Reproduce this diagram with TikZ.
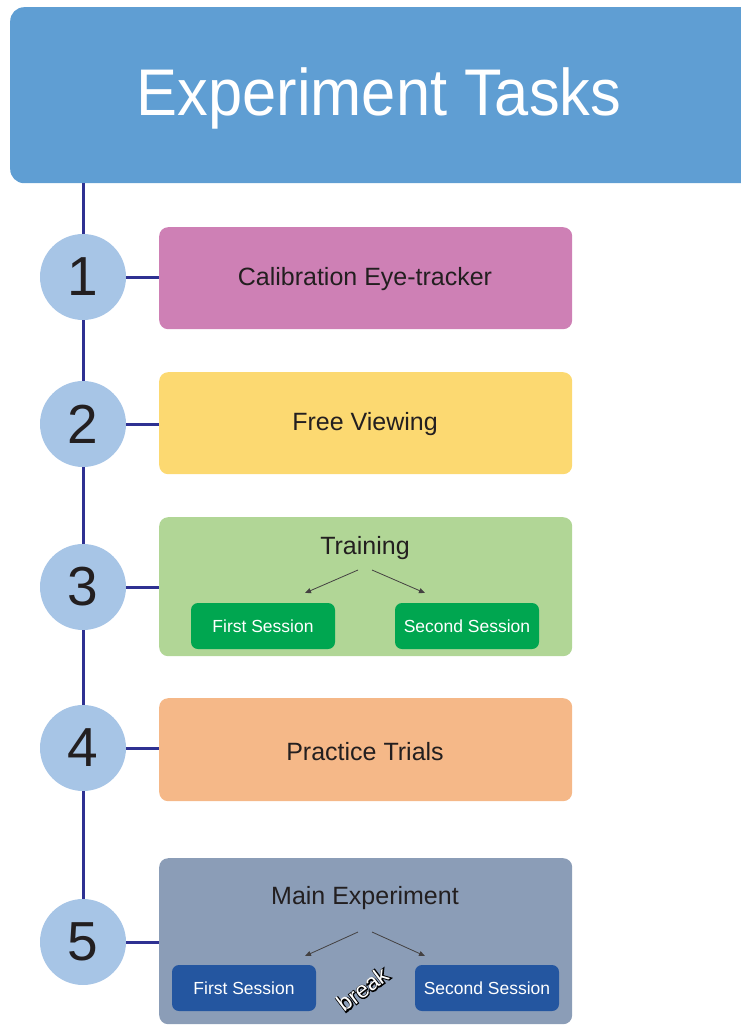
\documentclass[tikz,border=0pt]{standalone}
\usepackage{fontspec}
\setmainfont{Liberation Sans}
\newfontfamily\brkfont[FakeBold=8]{Liberation Sans}
\usetikzlibrary{arrows.meta}
\definecolor{hdr}{HTML}{5F9ED3}
\definecolor{navy}{HTML}{2E3192}
\definecolor{circ}{HTML}{A7C5E6}
\definecolor{pinkb}{HTML}{CE80B5}
\definecolor{yelb}{HTML}{FCD971}
\definecolor{greenb}{HTML}{B1D696}
\definecolor{orangeb}{HTML}{F5B888}
\definecolor{grayb}{HTML}{8B9DB7}
\definecolor{greensub}{HTML}{00A650}
\definecolor{bluesub}{HTML}{2456A0}
\definecolor{txt}{HTML}{231F20}
\tikzset{
  taskbox/.style={rounded corners=9pt, draw=none, minimum width=413pt, anchor=north west, inner sep=0pt},
  numcirc/.style={circle, fill=circ, minimum size=86pt, inner sep=0pt, font=\fontsize{55}{55}\selectfont, text=txt},
  tasklabel/.style={font=\fontsize{25}{25}\selectfont, text=txt},
  subbox/.style={rounded corners=7pt, minimum width=144pt, minimum height=46pt, inner sep=0pt, text=white, font=\fontsize{17.5}{17.5}\selectfont},
  timeline/.style={draw=navy, line width=3pt},
  subarrow/.style={draw=txt!85, line width=0.8pt, -{Triangle[length=6pt,width=5pt]}},
  brkstyle/.style={rotate=37, inner sep=0pt},
}
\begin{document}
\begin{tikzpicture}[x=1pt,y=-1pt]
\useasboundingbox (0,0) rectangle (740,1025);
% header
\node[rounded corners=14pt, fill=hdr, minimum width=745pt, minimum height=176pt, anchor=north west, inner sep=0pt] (hdr) at (10,7) {};
\node[text=white, font=\fontsize{66}{66}\selectfont] (title) at (379,98) {\scalebox{0.93}[1]{Experiment Tasks}};
% boxes
\node[taskbox, fill=pinkb, minimum height=102pt] (b1) at (159,227) {};
\node[taskbox, fill=yelb, minimum height=102pt] (b2) at (159,372) {};
\node[taskbox, fill=greenb, minimum height=139pt] (b3) at (159,517) {};
\node[taskbox, fill=orangeb, minimum height=103pt] (b4) at (159,698) {};
\node[taskbox, fill=grayb, minimum height=166pt] (b5) at (159,858) {};
% circles
\node[numcirc] (c1) at (83,277) {1};
\node[numcirc] (c2) at (83,424) {2};
\node[numcirc] (c3) at (83,587) {3};
\node[numcirc] (c4) at (83,748) {4};
\node[numcirc] (c5) at (83,942) {5};
% timeline
\draw[timeline] (hdr.south west -| c1) -- (c1.north);
\draw[timeline] (c1.south) -- (c2.north);
\draw[timeline] (c2.south) -- (c3.north);
\draw[timeline] (c3.south) -- (c4.north);
\draw[timeline] (c4.south) -- (c5.north);
\draw[timeline] (c1.east) -- (c1.east -| b1.west);
\draw[timeline] (c2.east) -- (c2.east -| b2.west);
\draw[timeline] (c3.east) -- (c3.east -| b3.west);
\draw[timeline] (c4.east) -- (c4.east -| b4.west);
\draw[timeline] (c5.east) -- (c5.east -| b5.west);
% labels
\node[tasklabel] (t1) at (365,279) {Calibration Eye-tracker};
\node[tasklabel] (t2) at (365,424) {Free Viewing};
\node[tasklabel] (t3) at (365,548) {Training};
\node[tasklabel] (t4) at (365,752) {Practice Trials};
\node[tasklabel] (t5) at (365,898) {Main Experiment};
% training subs
\node[subbox, fill=greensub] (s31) at (263,626) {First Session};
\node[subbox, fill=greensub] (s32) at (467,626) {Second Session};
\coordinate (a31) at (358,570);
\coordinate (a32) at (372,570);
\coordinate (e31) at (305,593);
\coordinate (e32) at (425,593);
\draw[subarrow] (a31) -- (e31);
\draw[subarrow] (a32) -- (e32);
% main subs
\node[subbox, fill=bluesub] (s51) at (244,988) {First Session};
\node[subbox, fill=bluesub] (s52) at (487,988) {Second Session};
\coordinate (a51) at (358,932);
\coordinate (a52) at (372,932);
\coordinate (e51) at (305,956);
\coordinate (e52) at (425,956);
\draw[subarrow] (a51) -- (e51);
\draw[subarrow] (a52) -- (e52);
% break: black emboldened underlay, white text on top
\node[brkstyle, text=black] (brkout) at (363,989) {\brkfont\fontsize{23}{23}\selectfont break};
\node[brkstyle, text=white, font=\fontsize{23}{23}\selectfont] (brk) at (363,989) {break};
\end{tikzpicture}
\end{document}
